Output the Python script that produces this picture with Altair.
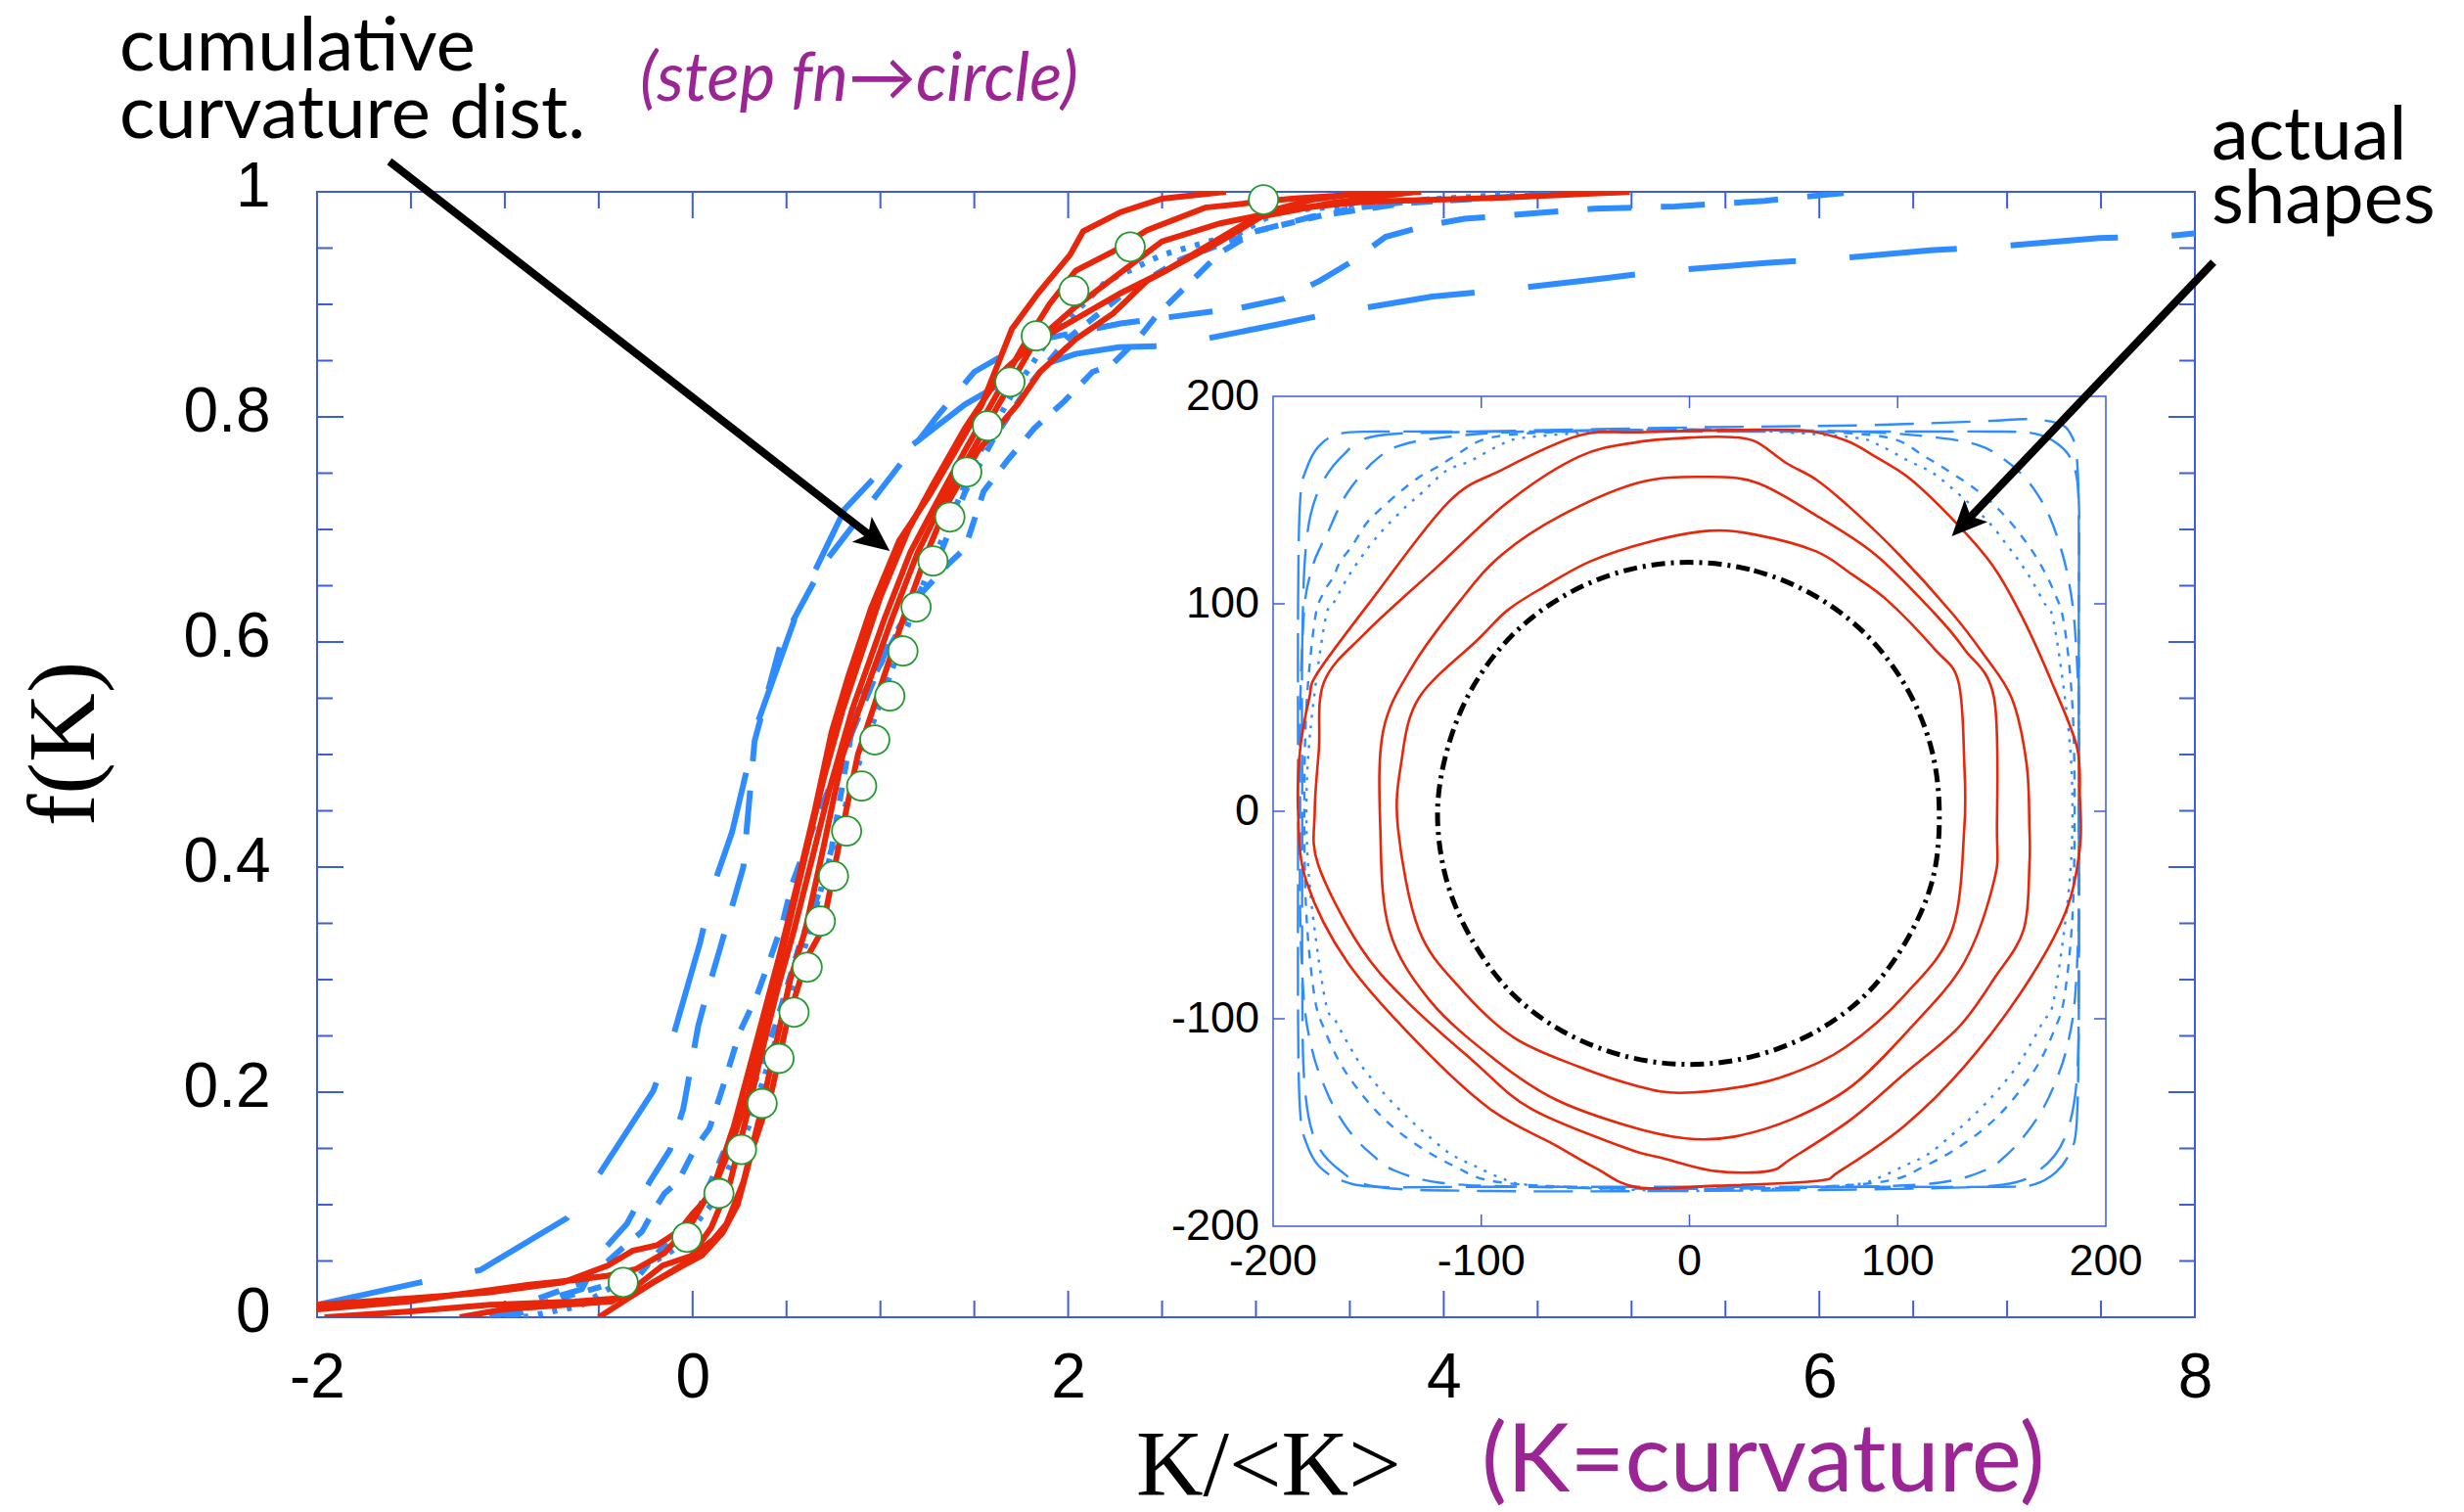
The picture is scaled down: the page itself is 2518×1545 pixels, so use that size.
import altair as alt
import pandas as pd

# ---------------- layout (pixels) ----------------
W, H = 1919, 1150
PADL, PADT = 324, 196
IX0, IX1, IY0, IY1 = 977, 1828, 209, 1057   # inset box inside plot area

FRAME = "#3d5ce0"
RED = "#e8260a"
BLUE = "#2e8cff"
GREEN = "#23992f"
PURPLE = "#9b2594"

# ---------------- main plot data: cumulative curvature distributions ----------------
circ_x = [-0.37, -0.03, 0.14, 0.26, 0.37, 0.46, 0.54, 0.61, 0.68, 0.75, 0.82, 0.90, 0.97, 1.05,
          1.12, 1.19, 1.28, 1.37, 1.46, 1.57, 1.69, 1.83, 2.03, 2.33, 3.04]
circ_y = [0.031, 0.071, 0.110, 0.149, 0.190, 0.230, 0.271, 0.311, 0.352, 0.392, 0.432, 0.472, 0.513,
          0.552, 0.592, 0.631, 0.672, 0.711, 0.751, 0.792, 0.831, 0.872, 0.912, 0.951, 0.993]

red1 = [(-2.0, 0.007), (-1.52, 0.014), (-1.26, 0.02), (-0.87, 0.029), (-0.63, 0.033), (-0.45, 0.037),
        (-0.30, 0.043), (-0.15, 0.057), (0.0, 0.085), (0.12, 0.12), (0.22, 0.17), (0.3, 0.22), (0.38, 0.27),
        (0.46, 0.32), (0.55, 0.38), (0.65, 0.45), (0.74, 0.52), (0.83, 0.57), (0.95, 0.63), (1.1, 0.69),
        (1.26, 0.73), (1.4, 0.77), (1.54, 0.811), (1.70, 0.878), (1.84, 0.91), (2.01, 0.944), (2.08, 0.965),
        (2.28, 0.982), (2.5, 0.994), (2.84, 1.0)]
red2 = [(-1.96, 0.0), (-1.52, 0.005), (-1.08, 0.011), (-0.63, 0.014), (-0.39, 0.017), (-0.27, 0.025),
        (-0.03, 0.049), (0.1, 0.08), (0.2, 0.12), (0.29, 0.18), (0.36, 0.23), (0.45, 0.29), (0.54, 0.344),
        (0.64, 0.41), (0.73, 0.47), (0.85, 0.54), (1.02, 0.62), (1.16, 0.68), (1.3, 0.724), (1.45, 0.77),
        (1.59, 0.811), (1.75, 0.86), (1.9, 0.9), (2.04, 0.93), (2.24, 0.947), (2.42, 0.966), (2.73, 0.986),
        (3.19, 0.994), (3.57, 0.998), (3.88, 1.0)]
red3 = [(-1.24, 0.0), (-1.01, 0.007), (-0.43, 0.014), (-0.32, 0.025), (-0.16, 0.046), (0.0, 0.055),
        (0.11, 0.069), (0.18, 0.083), (0.27, 0.12), (0.36, 0.18), (0.44, 0.24), (0.52, 0.3), (0.6, 0.344),
        (0.7, 0.42), (0.8, 0.5), (0.93, 0.56), (1.06, 0.62), (1.2, 0.68), (1.33, 0.724), (1.49, 0.77),
        (1.63, 0.811), (1.82, 0.866), (2.04, 0.898), (2.27, 0.927), (2.5, 0.956), (2.81, 0.972),
        (3.19, 0.985), (3.57, 0.991), (4.34, 0.995), (4.99, 1.0)]
red4 = [(-0.5, 0.0), (-0.37, 0.014), (-0.21, 0.031), (-0.05, 0.046), (0.05, 0.055), (0.16, 0.075),
        (0.24, 0.1), (0.32, 0.15), (0.42, 0.2), (0.5, 0.26), (0.61, 0.32), (0.69, 0.344), (0.78, 0.42),
        (0.88, 0.5), (1.0, 0.56), (1.12, 0.62), (1.25, 0.68), (1.36, 0.724), (1.52, 0.77), (1.73, 0.811),
        (1.85, 0.84), (2.04, 0.869), (2.24, 0.892), (2.42, 0.921), (2.81, 0.956), (3.03, 0.978),
        (3.4, 0.99), (3.85, 1.0)]
red5 = [(-2.0, 0.011), (-1.49, 0.017), (-1.09, 0.022), (-0.69, 0.031), (-0.45, 0.046), (-0.32, 0.059),
        (-0.19, 0.064), (-0.07, 0.077), (0.0, 0.092), (0.1, 0.11), (0.2, 0.15), (0.3, 0.2), (0.4, 0.27),
        (0.5, 0.34), (0.6, 0.41), (0.7, 0.48), (0.8, 0.54), (0.9, 0.59), (1.0, 0.64), (1.15, 0.7),
        (1.28, 0.74), (1.45, 0.79), (1.65, 0.84), (1.82, 0.866), (2.28, 0.91), (2.52, 0.93),
        (2.87, 0.965), (3.05, 0.982), (3.3, 0.993), (3.6, 1.0)]

blue1 = [(-2.0, 0.011), (-1.45, 0.031), (-1.13, 0.042), (-0.67, 0.088), (-0.49, 0.129), (-0.21, 0.201),
         (-0.11, 0.246), (0.04, 0.333), (0.11, 0.383), (0.21, 0.431), (0.35, 0.53), (0.59, 0.642),
         (0.81, 0.718), (1.03, 0.757), (1.45, 0.811), (1.75, 0.84), (2.04, 0.856), (2.27, 0.862),
         (2.54, 0.863), (3.11, 0.882), (3.40, 0.892), (3.94, 0.907), (4.26, 0.912), (4.85, 0.923),
         (5.14, 0.929), (5.73, 0.937), (6.04, 0.940), (6.59, 0.948), (6.92, 0.951), (7.49, 0.959),
         (7.80, 0.960), (8.0, 0.963)]
blue2 = [(-1.08, 0.0), (-0.85, 0.012), (-0.59, 0.025), (-0.49, 0.057), (-0.35, 0.083), (-0.23, 0.12),
         (-0.12, 0.149), (-0.05, 0.185), (0.03, 0.259), (0.08, 0.29), (0.15, 0.33), (0.27, 0.40),
         (0.33, 0.512), (0.47, 0.599), (0.7, 0.67), (1.0, 0.735), (1.3, 0.8), (1.5, 0.84), (1.77, 0.866),
         (2.28, 0.883), (2.92, 0.897), (3.15, 0.905), (3.34, 0.921), (3.51, 0.938), (3.69, 0.96),
         (3.91, 0.97), (4.11, 0.976), (4.49, 0.981), (4.8, 0.985), (5.23, 0.987), (5.71, 0.992),
         (6.13, 0.999)]
blue3 = [(-1.0, 0.0), (-0.85, 0.015), (-0.6, 0.03), (-0.45, 0.05), (-0.35, 0.065), (-0.27, 0.076),
         (-0.21, 0.094), (-0.15, 0.11), (-0.08, 0.12), (0.01, 0.149), (0.09, 0.168), (0.16, 0.204),
         (0.25, 0.253), (0.34, 0.285), (0.41, 0.317), (0.48, 0.351), (0.53, 0.385), (0.60, 0.417),
         (0.75, 0.48), (0.9, 0.54), (1.05, 0.6), (1.2, 0.64), (1.36, 0.669), (1.45, 0.683), (1.55, 0.734),
         (1.68, 0.762), (1.82, 0.79), (1.98, 0.814), (2.13, 0.84), (2.23, 0.846), (2.37, 0.869),
         (2.47, 0.89), (2.64, 0.918), (2.81, 0.946), (3.0, 0.965), (3.3, 0.978), (3.8, 0.99),
         (4.5, 0.997), (5.0, 1.0)]
blue4 = [(-0.97, 0.0), (-0.9, 0.005), (-0.77, 0.014), (-0.49, 0.027), (-0.28, 0.038), (-0.2, 0.055),
         (0.03, 0.095), (0.25, 0.179), (0.33, 0.208), (0.44, 0.259), (0.50, 0.292), (0.57, 0.331),
         (0.67, 0.376), (0.74, 0.416), (0.87, 0.544), (0.96, 0.568), (1.10, 0.611), (1.23, 0.651),
         (1.33, 0.683), (1.45, 0.733), (1.6, 0.78), (1.8, 0.83), (2.0, 0.87), (2.3, 0.91), (2.6, 0.94),
         (3.0, 0.965), (3.5, 0.985), (4.0, 0.995)]
blue5 = [(-0.9, 0.0), (-0.6, 0.01), (-0.4, 0.03), (-0.1, 0.06), (0.1, 0.1), (0.3, 0.17), (0.45, 0.25),
         (0.6, 0.33), (0.75, 0.42), (0.9, 0.5), (1.05, 0.57), (1.2, 0.64), (1.35, 0.7), (1.5, 0.76),
         (1.7, 0.82), (1.9, 0.87), (2.2, 0.92), (2.5, 0.944), (2.92, 0.964), (3.11, 0.982), (3.6, 0.99),
         (4.49, 0.999)]

# ---------------- inset data: actual shapes (outline coordinates) ----------------
shape_red1 = [(-188, 0), (-187, 30), (-182.6, 54.6), (-178.4, 67.1), (-152.8, 101.7), (-115.9, 148.9),
              (-90.1, 164.6), (-53.1, 181.1), (-24.7, 182.7), (23.7, 183.8), (55.1, 183.5), (75, 178.8),
              (89.3, 170.9), (106.4, 159.9), (129.1, 137.9), (146.3, 117.5), (160.5, 92.3), (174.6, 60.9),
              (186.1, 31), (187.5, 7.4), (187.5, -17.8), (180.4, -49.2), (160.5, -85.4), (132, -123.1),
              (103.5, -151.4), (72.2, -173.4), (60.8, -178.2), (12.4, -180.5), (-24.7, -181.3),
              (-45, -172), (-64.5, -160.9), (-95.8, -143.5), (-130, -112.1), (-164.3, -72.8), (-184.1, -33.5)]
shape_red2 = [(-180, 0), (-178, 30), (-175.5, 62.4), (-155.6, 86), (-121.5, 117.5), (-87.3, 148.9),
              (-53.1, 170.9), (-24.7, 178), (3.9, 180.3), (20.9, 180.3), (32.2, 178), (46.6, 167.8),
              (60.8, 159.9), (77.8, 145.8), (100.7, 123.7), (126.2, 95.4), (140.6, 76.6), (154.8, 54.6),
              (161.9, 23.1), (163.3, -8.3), (163.3, -25.6), (160.5, -57.1), (146.3, -80.7), (129.2, -104.2),
              (103.5, -126.3), (77.9, -148.3), (49.4, -167.1), (38, -173.4), (12.4, -173.4), (-13.2, -167.1),
              (-30.3, -162.4), (-75.9, -143.5), (-104.3, -120), (-135.7, -91.7), (-158.4, -65),
              (-178.4, -25.6)]
shape_red3 = [(-148.5, -8.3), (-147.1, 38.8), (-132.8, 70.3), (-110, 101.7), (-90.1, 123.7), (-61.6, 142.6),
              (-24.6, 158.4), (6.7, 161.2), (32.3, 158.4), (60.8, 142.6), (89.3, 123.7), (117.7, 95.4),
              (132, 78.2), (146.3, 54.6), (147.7, -8.3), (146.3, -33.5), (132, -72.8), (106.4, -104.2),
              (77.9, -132.5), (49.4, -148.3), (20.9, -156.9), (-1.8, -157.7), (-30.3, -151.4),
              (-64.5, -138.8), (-93, -120), (-124.3, -91.7), (-144.2, -57.1)]
shape_red4 = [(-140, -8.3), (-138.5, 23.1), (-130, 54.6), (-101.5, 82.9), (-87.3, 97), (-70.2, 108),
              (-47.4, 120.6), (-18.9, 130), (9.5, 135.2), (32.3, 133.2), (60.8, 125.3), (77.9, 114.3),
              (95, 101.7), (117.7, 78.2), (129.2, 62.4), (132, 23.1), (132, -8.3), (126.2, -57.1),
              (103.5, -88.5), (75, -113.7), (49.4, -126.3), (26.6, -132.5), (-4.7, -135.7), (-24.7, -132.5),
              (-53.1, -123.1), (-84.4, -109), (-110, -85.4), (-130, -57.1)]
shape_circle = [(0, 120), (31, 116), (60, 104), (85, 85), (104, 60), (116, 31), (120, 0), (117, -32),
                (105, -61), (86, -87), (61, -106), (31, -118), (0, -122), (-31, -118), (-61, -106),
                (-86, -87), (-105, -61), (-117, -32), (-121, 0), (-116, 31), (-104, 60), (-85, 85),
                (-60, 104), (-31, 116)]
shape_blue1 = [(-188, 0), (-188, 100), (-187, 150), (-184, 165), (-178, 176), (-168, 182), (-150, 183),
               (-100, 183), (0, 183), (100, 183), (150, 183), (166, 182), (177, 177), (184, 168), (187, 150),
               (187, 100), (187, 0), (187, -100), (186, -150), (183, -164), (176, -174), (165, -180),
               (150, -181), (100, -181), (0, -181), (-100, -181), (-150, -181), (-167, -178), (-178, -171),
               (-184, -160), (-187, -145), (-188, -100)]
shape_blue5 = [(-186, 0), (-186, 80), (-184, 130), (-178, 155), (-166, 172), (-150, 181), (-100, 183),
               (0, 185), (80, 186), (140, 188), (162, 189), (177, 187), (183, 182), (186, 171), (187, 140),
               (187, 60), (187, 0), (187, -80), (186, -130), (180, -158), (168, -173), (150, -180),
               (100, -182), (0, -183), (-100, -183), (-150, -181), (-168, -173), (-180, -158), (-185, -130),
               (-186, -80)]
shape_blue2 = [(-187, 0), (-187, 50), (-185, 98), (-181, 118), (-177, 128), (-173, 136), (-169, 145),
               (-164, 154), (-157, 163), (-150, 170), (-140, 176), (-120, 180), (-80, 183), (0, 184), (80, 183),
               (120, 180), (140, 176), (152, 169), (160, 162), (167, 153), (173, 142), (178, 128), (182, 112),
               (185, 90), (187, 50), (187, 0), (187, -50), (185, -92), (181, -115), (176, -130), (170, -143),
               (162, -155), (153, -165), (142, -173), (120, -179), (80, -181), (0, -182), (-80, -181),
               (-120, -179), (-142, -173), (-153, -165), (-162, -156), (-170, -144), (-176, -131),
               (-181, -116), (-185, -93), (-187, -50)]
shape_blue3 = [(-185, 0), (-184, 50), (-180, 92), (-176, 105), (-171, 113), (-168, 120), (-162, 128),
               (-155, 139), (-148, 146), (-139, 154), (-130, 161), (-121, 166), (-113, 171), (-96, 180),
               (-60, 183), (0, 184), (60, 183), (96, 180), (113, 171), (126, 163), (139, 154), (150, 144),
               (160, 132), (168, 120), (175, 106), (180, 90), (184, 50), (185, 0), (184, -50), (180, -90),
               (175, -106), (168, -121), (160, -133), (150, -145), (139, -155), (126, -164), (113, -171),
               (96, -178), (60, -181), (0, -182), (-60, -181), (-96, -178), (-113, -171), (-126, -164),
               (-139, -155), (-150, -145), (-160, -133), (-168, -121), (-175, -106), (-180, -90), (-184, -50)]
shape_blue4 = [(-184, 0), (-182, 40), (-175, 92), (-170, 102), (-164, 113), (-158, 122), (-152, 130),
               (-145, 138), (-136, 147), (-128, 154), (-117, 164), (-105, 169), (-92, 176), (-80, 180),
               (-40, 183), (0, 184), (40, 183), (80, 180), (92, 176), (105, 169), (117, 163), (128, 154),
               (137, 146), (145, 138), (152, 129), (158, 121), (164, 112), (170, 101), (175, 91), (182, 40),
               (184, 0), (182, -40), (175, -91), (170, -101), (164, -112), (158, -122), (151, -131),
               (144, -139), (135, -148), (126, -156), (115, -165), (103, -171), (90, -177), (78, -180),
               (40, -182), (0, -183), (-40, -182), (-78, -180), (-90, -177), (-103, -171), (-115, -165),
               (-126, -156), (-135, -148), (-144, -139), (-151, -131), (-158, -122), (-164, -112),
               (-170, -101), (-175, -91), (-182, -40)]

# ---------------- ticks and labels ----------------
x_labels = [-2, 0, 2, 4, 6, 8]
y_labels = [0, 0.2, 0.4, 0.6, 0.8, 1]
x_major = [0, 2, 4, 6]
x_minor = [-1.5, -1, -0.5, 0.5, 1, 1.5, 2.5, 3, 3.5, 4.5, 5, 5.5, 6.5, 7, 7.5]
y_major = [0.2, 0.4, 0.6, 0.8]
y_minor = [0.05, 0.1, 0.15, 0.25, 0.3, 0.35, 0.45, 0.5, 0.55, 0.65, 0.7, 0.75, 0.85, 0.9, 0.95]
inset_labels = [-200, -100, 0, 100, 200]
inset_ticks = [-100, 0, 100]


def pts(pairs, name):
    return pd.DataFrame({"x": [p[0] for p in pairs], "y": [p[1] for p in pairs],
                         "i": list(range(len(pairs))), "s": name})


def mx(f="x"):
    return alt.X(f"{f}:Q", scale=alt.Scale(domain=[-2, 8], nice=False, zero=False), axis=None)


def my(f="y"):
    return alt.Y(f"{f}:Q", scale=alt.Scale(domain=[0, 1], nice=False, zero=False), axis=None)


def ix(f="x"):
    return alt.X(f"{f}:Q", scale=alt.Scale(domain=[-200, 200], range=[IX0, IX1], nice=False, zero=False),
                 axis=None)


def iy(f="y"):
    return alt.Y(f"{f}:Q", scale=alt.Scale(domain=[-200, 200], range=[IY1, IY0], nice=False, zero=False),
                 axis=None)


layers = []
one = pd.DataFrame({"d": [0]})

# axis labels of the main plot (carrier layer, invisible marks)
lab_df = pd.DataFrame({"x": x_labels, "y": y_labels})
layers.append(
    alt.Chart(lab_df).mark_point(opacity=0).encode(
        x=alt.X("x:Q", scale=alt.Scale(domain=[-2, 8], nice=False, zero=False),
                axis=alt.Axis(orient="bottom", values=x_labels, labelExpr="datum.value + ''", ticks=False,
                              domain=False, grid=False, labelFont="Liberation Sans", labelFontSize=64,
                              labelColor="black", labelPadding=30, labelFlush=False, labelOverlap=False,
                              title=None)),
        y=alt.Y("y:Q", scale=alt.Scale(domain=[0, 1], nice=False, zero=False),
                axis=alt.Axis(orient="left", values=y_labels, labelExpr="datum.value + ''", ticks=False,
                              domain=False, grid=False, labelFont="Liberation Sans", labelFontSize=64,
                              labelColor="black", labelPadding=48, labelOffset=-5, labelOverlap=False,
                              title=None)),
    )
)

# main ticks (inward, all four sides)
for vals, ln in [(x_minor, 17), (x_major, 27)]:
    d = pd.DataFrame({"v": vals})
    layers.append(alt.Chart(d).mark_rule(color=FRAME, strokeWidth=2).encode(
        x=mx("v"), y=alt.value(H), y2=alt.value(H - ln)))
    layers.append(alt.Chart(d).mark_rule(color=FRAME, strokeWidth=2).encode(
        x=mx("v"), y=alt.value(0), y2=alt.value(ln)))
for vals, ln in [(y_minor, 16), (y_major, 27)]:
    d = pd.DataFrame({"v": vals})
    layers.append(alt.Chart(d).mark_rule(color=FRAME, strokeWidth=2).encode(
        y=my("v"), x=alt.value(0), x2=alt.value(ln)))
    layers.append(alt.Chart(d).mark_rule(color=FRAME, strokeWidth=2).encode(
        y=my("v"), x=alt.value(W), x2=alt.value(W - ln)))

# blue curves (different dash styles)
blue_styles = [(blue1, [110, 55]), (blue2, [45, 30]), (blue3, [22, 18]), (blue4, [14, 14]), (blue5, [5, 10])]
for k, (c, dash) in enumerate(blue_styles):
    layers.append(alt.Chart(pts(c, f"b{k}")).mark_line(color=BLUE, strokeWidth=6, strokeDash=dash,
                                                          clip=True).encode(
        x=mx(), y=my(), order="i:Q"))

# red curves
red_df = pd.concat([pts(c, f"r{k}") for k, c in enumerate([red1, red2, red3, red4, red5])])
layers.append(alt.Chart(red_df).mark_line(color=RED, strokeWidth=6, clip=True).encode(
    x=mx(), y=my(), detail="s:N", order="i:Q"))

# step function -> circle reference points
layers.append(alt.Chart(pd.DataFrame({"x": circ_x, "y": circ_y})).mark_point(
    shape="circle", filled=True, fill="white", stroke=GREEN, strokeWidth=1.8, size=900, opacity=1).encode(
    x=mx(), y=my()))

# ---------------- inset ----------------
layers.append(alt.Chart(one).mark_rect(fill="white", stroke=FRAME, strokeWidth=1.5).encode(
    x=alt.value(IX0), x2=alt.value(IX1), y=alt.value(IY0), y2=alt.value(IY1)))

d_it = pd.DataFrame({"v": inset_ticks})
layers.append(alt.Chart(d_it).mark_rule(color=FRAME, strokeWidth=1.5).encode(
    x=ix("v"), y=alt.value(IY1), y2=alt.value(IY1 - 12)))
layers.append(alt.Chart(d_it).mark_rule(color=FRAME, strokeWidth=1.5).encode(
    x=ix("v"), y=alt.value(IY0), y2=alt.value(IY0 + 12)))
layers.append(alt.Chart(d_it).mark_rule(color=FRAME, strokeWidth=1.5).encode(
    y=iy("v"), x=alt.value(IX0), x2=alt.value(IX0 + 12)))
layers.append(alt.Chart(d_it).mark_rule(color=FRAME, strokeWidth=1.5).encode(
    y=iy("v"), x=alt.value(IX1), x2=alt.value(IX1 - 12)))

d_il = pd.DataFrame({"v": inset_labels, "lab": [str(v) for v in inset_labels]})
layers.append(alt.Chart(d_il).mark_text(font="Liberation Sans", fontSize=45, color="black",
                                        align="center", baseline="middle").encode(
    x=ix("v"), y=alt.value(IY1 + 36), text="lab:N"))
layers.append(alt.Chart(d_il).mark_text(font="Liberation Sans", fontSize=45, color="black",
                                        align="right", baseline="middle").encode(
    y=iy("v"), x=alt.value(IX0 - 14), text="lab:N"))

inset_blue = [(shape_blue1, [50, 14]), (shape_blue5, [40, 18]), (shape_blue2, [23, 14]),
              (shape_blue3, [9, 9]), (shape_blue4, [3, 8])]
for k, (c, dash) in enumerate(inset_blue):
    layers.append(alt.Chart(pts(c, f"ib{k}")).mark_line(
        color=BLUE, strokeWidth=2.4, strokeDash=dash, interpolate="cardinal-closed").encode(
        x=ix(), y=iy(), order="i:Q"))

ired = pd.concat([pts(c, f"ir{k}") for k, c in enumerate([shape_red1, shape_red2, shape_red3, shape_red4])])
layers.append(alt.Chart(ired).mark_line(color=RED, strokeWidth=2.6, interpolate="cardinal-closed").encode(
    x=ix(), y=iy(), detail="s:N", order="i:Q"))

layers.append(alt.Chart(pts(shape_circle, "c")).mark_line(
    color="black", strokeWidth=5, strokeDash=[14, 6, 3, 6], interpolate="cardinal-closed").encode(
    x=ix(), y=iy(), order="i:Q"))


# ---------------- text annotations ----------------
def txt(s, x, y, size, font="Lato", color="black", align="left", style="normal", angle=0,
        baseline="alphabetic"):
    mk = dict(text=s, font=font, fontSize=size, color=color, align=align, baseline=baseline,
              fontStyle=style)
    if angle:
        mk["angle"] = angle
    return alt.Chart(one).mark_text(**mk).encode(x=alt.value(x), y=alt.value(y))


layers.append(txt("cumulative", -202, -124, 76))
layers.append(txt("curvature dist.", -202, -55, 76))
layers.append(txt("(step fn\u2192circle)", 330, -93, 69, color=PURPLE, style="italic"))
layers.append(txt("actual", 1936, -33, 76))
layers.append(txt("shapes", 1936, 32, 76))
layers.append(txt("f(K)", -257, 564, 98, font="Liberation Serif", align="center", angle=270,
                  baseline="middle"))
layers.append(txt("K/<K>", 837, 1332, 95, font="Liberation Serif"))
layers.append(txt("(K=curvature)", 1190, 1328, 97, color=PURPLE))

# ---------------- arrows ----------------
ARROW = "M0,-1L0.9,1L0,0.55L-0.9,1Z"
layers.append(alt.Chart(one).mark_rule(color="black", strokeWidth=8).encode(
    x=alt.value(74), y=alt.value(-31), x2=alt.value(566), y2=alt.value(352)))
layers.append(alt.Chart(one).mark_point(shape=ARROW, filled=True, color="black", opacity=1, size=1300,
                                        angle=127.9).encode(x=alt.value(571), y=alt.value(356)))
layers.append(alt.Chart(one).mark_rule(color="black", strokeWidth=8).encode(
    x=alt.value(1938), y=alt.value(72), x2=alt.value(1688), y2=alt.value(334)))
layers.append(alt.Chart(one).mark_point(shape=ARROW, filled=True, color="black", opacity=1, size=1300,
                                        angle=223.6).encode(x=alt.value(1683), y=alt.value(339)))

chart = alt.layer(*layers).resolve_scale(x="independent", y="independent").properties(
    width=W, height=H,
    autosize=alt.AutoSizeParams(type="none"),
    padding={"left": PADL, "top": PADT, "right": 2518 - PADL - W, "bottom": 1545 - PADT - H},
    background="white",
).configure_view(stroke=FRAME, strokeWidth=2)

chart.save("out.html", embed_options={"renderer": "svg", "actions": False})
